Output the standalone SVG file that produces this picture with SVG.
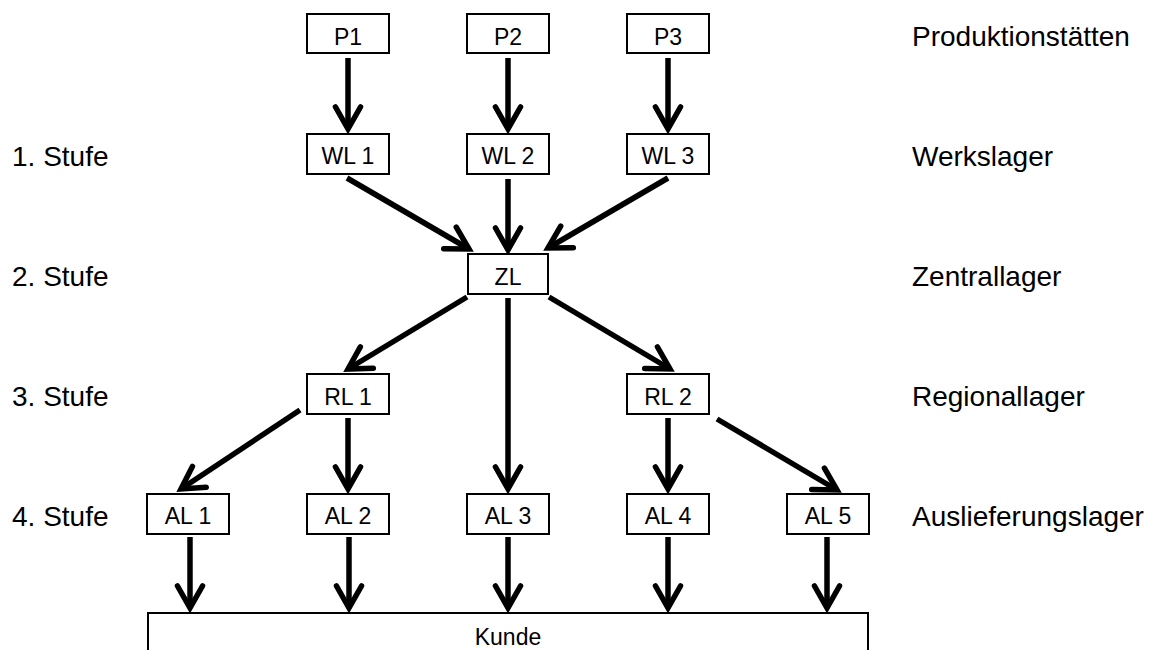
<svg xmlns="http://www.w3.org/2000/svg" width="1151" height="650" viewBox="0 0 1151 650">
<style>
.box{fill:#fff;stroke:#000;stroke-width:2}
.bl{font-family:"Liberation Sans",Arial,sans-serif;font-size:23px;fill:#000;text-anchor:middle}
.lbl{font-family:"Liberation Sans",Arial,sans-serif;font-size:28px;fill:#000}
.arr{stroke:#000;stroke-width:5.5;fill:none;marker-end:url(#ah)}
</style>
<defs>
<marker id="ah" markerUnits="userSpaceOnUse" markerWidth="40" markerHeight="40" viewBox="-30 -20 40 40" refX="0" refY="0" orient="auto">
<path d="M-22,-12.5 L0,0 L-22,12.5" fill="none" stroke="#000" stroke-width="5.5" stroke-linecap="round" stroke-linejoin="miter"/>
</marker>
</defs>
<rect width="1151" height="650" fill="#fff"/>
<g id="labels">
<text class="lbl" x="12" y="166">1. Stufe</text>
<text class="lbl" x="12" y="286">2. Stufe</text>
<text class="lbl" x="12" y="406">3. Stufe</text>
<text class="lbl" x="12" y="526">4. Stufe</text>
<text class="lbl" x="912" y="46">Produktionstätten</text>
<text class="lbl" x="912" y="166">Werkslager</text>
<text class="lbl" x="912" y="286">Zentrallager</text>
<text class="lbl" x="912" y="406">Regionallager</text>
<text class="lbl" x="912" y="526">Auslieferungslager</text>
</g>
<g id="connectors">
<line class="arr" x1="348" y1="58" x2="348" y2="129"/>
<line class="arr" x1="508" y1="58" x2="508" y2="129"/>
<line class="arr" x1="668" y1="58" x2="668" y2="129"/>
<line class="arr" x1="347" y1="178" x2="469" y2="249"/>
<line class="arr" x1="508" y1="179" x2="508" y2="250"/>
<line class="arr" x1="668" y1="178" x2="548" y2="248"/>
<line class="arr" x1="467" y1="297" x2="348" y2="369"/>
<line class="arr" x1="508" y1="298" x2="508" y2="489"/>
<line class="arr" x1="549" y1="297" x2="670" y2="369"/>
<line class="arr" x1="300" y1="410" x2="181" y2="489"/>
<line class="arr" x1="348" y1="418" x2="348" y2="489"/>
<line class="arr" x1="668" y1="418" x2="668" y2="489"/>
<line class="arr" x1="717" y1="419" x2="837" y2="490"/>
<line class="arr" x1="190" y1="537" x2="190" y2="608"/>
<line class="arr" x1="349" y1="537" x2="349" y2="608"/>
<line class="arr" x1="508" y1="537" x2="508" y2="608"/>
<line class="arr" x1="668" y1="537" x2="668" y2="608"/>
<line class="arr" x1="827" y1="537" x2="827" y2="608"/>
</g>
<g id="P1"><rect class="box" x="307" y="14" width="82" height="39"/><text class="bl" x="348" y="45">P1</text></g>
<g id="P2"><rect class="box" x="467" y="14" width="82" height="39"/><text class="bl" x="508" y="45">P2</text></g>
<g id="P3"><rect class="box" x="627" y="14" width="82" height="39"/><text class="bl" x="668" y="45">P3</text></g>
<g id="WL1"><rect class="box" x="307" y="134" width="82" height="40"/><text class="bl" x="348" y="164">WL 1</text></g>
<g id="WL2"><rect class="box" x="467" y="134" width="82" height="40"/><text class="bl" x="508" y="164">WL 2</text></g>
<g id="WL3"><rect class="box" x="627" y="134" width="82" height="40"/><text class="bl" x="668" y="164">WL 3</text></g>
<g id="ZL"><rect class="box" x="468" y="254" width="80" height="40"/><text class="bl" x="508" y="285">ZL</text></g>
<g id="RL1"><rect class="box" x="307" y="374" width="82" height="40"/><text class="bl" x="348" y="405">RL 1</text></g>
<g id="RL2"><rect class="box" x="627" y="374" width="82" height="40"/><text class="bl" x="668" y="405">RL 2</text></g>
<g id="AL1"><rect class="box" x="147" y="494" width="82" height="40"/><text class="bl" x="188" y="524">AL 1</text></g>
<g id="AL2"><rect class="box" x="307" y="494" width="82" height="40"/><text class="bl" x="348" y="524">AL 2</text></g>
<g id="AL3"><rect class="box" x="467" y="494" width="82" height="40"/><text class="bl" x="508" y="524">AL 3</text></g>
<g id="AL4"><rect class="box" x="627" y="494" width="82" height="40"/><text class="bl" x="668" y="524">AL 4</text></g>
<g id="AL5"><rect class="box" x="787" y="494" width="82" height="40"/><text class="bl" x="828" y="524">AL 5</text></g>
<g id="Kunde"><rect class="box" x="148" y="613" width="720" height="50"/><text class="bl" x="508" y="645">Kunde</text></g>
</svg>
